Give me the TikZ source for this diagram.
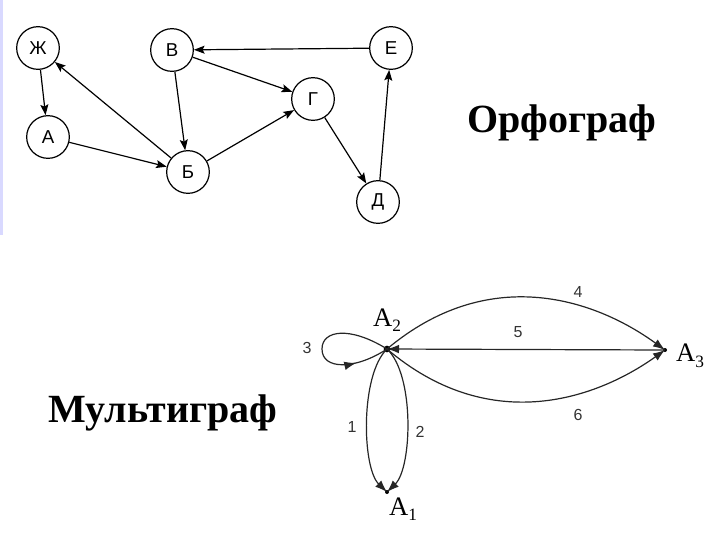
\documentclass[tikz,border=0pt]{standalone}
\usepackage{fontspec}
\setmainfont{Liberation Serif}
\newfontfamily\arialf{Liberation Sans}
\usetikzlibrary{arrows.meta,decorations.markings}
\newcommand{\sbs}[1]{\raisebox{-0.45ex}{\fontsize{13}{13}\selectfont #1}}
\begin{document}
\begin{tikzpicture}[x=0.75pt,y=-0.75pt,
  vnode/.style={circle,draw,line width=0.9pt,minimum size=32pt,inner sep=0pt,font=\arialf\fontsize{14}{16}\selectfont},
  tedge/.style={line width=0.9pt,-{Stealth[length=8pt,width=6pt,inset=1.5pt]}},
  medge/.style={line width=0.9pt,draw=black!85,-{Latex[length=9pt,width=6.5pt]}},
  num/.style={font=\arialf\fontsize{12}{14}\selectfont,text=black!80},
  alab/.style={font=\fontsize{20}{22}\selectfont},
  pt/.style={circle,fill,inner sep=0pt,minimum size=5pt},
  title/.style={font=\bfseries\fontsize{30}{34}\selectfont,anchor=base}]
\useasboundingbox (0,0) rectangle (720,540);
\fill[blue!15] (0,0) rectangle (3,235);
% top graph
\node[vnode] (zh) at (38,48) {Ж};
\node[vnode] (v) at (172,50) {В};
\node[vnode] (e) at (391,48) {Е};
\node[vnode] (g) at (313,99) {Г};
\node[vnode] (a) at (48,137) {А};
\node[vnode] (b) at (188,172) {Б};
\node[vnode] (d) at (378,202) {Д};
\draw[tedge] (zh) -- (a);
\draw[tedge] (b) -- (zh);
\draw[tedge] (a) -- (b);
\draw[tedge] (v) -- (b);
\draw[tedge] (v) -- (g);
\draw[tedge] (b) -- (g);
\draw[tedge] (g) -- (d);
\draw[tedge] (d) -- (e);
\draw[tedge] (e) -- (v);
\node[title] (t1) at (562,132) {Орфограф};
\node[title] (t2) at (163,422) {Мультиграф};
% multigraph
\node[pt] (p2) at (387,349) {};
\node[pt,minimum size=3pt] (p3) at (665,350) {};
\node[pt,minimum size=3pt] (p1) at (387,492) {};
\node[alab] (l2) at (387,320) {A\sbs{2}};
\node[alab] (l3) at (690,356) {A\sbs{3}};
\node[alab] (l1) at (403,509) {A\sbs{1}};
\draw[medge] (p2.center) .. controls (487,265) and (592,297) .. (p3.center);
\draw[medge] (p2.center) .. controls (487,434) and (592,402) .. (p3.center);
\draw[medge] (p3.center) -- (p2.center);
\draw[medge] (p2.center) .. controls (360,375) and (362,468) .. (p1.center);
\draw[medge] (p2.center) .. controls (415,375) and (412,468) .. (p1.center);
\draw[line width=0.9pt,draw=black!85,decoration={markings,mark=at position 0.78 with {\arrow{Latex[length=9pt,width=6.5pt]}}},postaction={decorate}]
  (p2.center) .. controls (350,326) and (322,330) .. (322,349) .. controls (322,370) and (355,370) .. (p2.center);
\node[num] (n4) at (578,292) {4};
\node[num] (n5) at (518,332) {5};
\node[num] (n6) at (578,415) {6};
\node[num] (n3) at (307,348) {3};
\node[num] (n1) at (352,427) {1};
\node[num] (n2) at (420,432) {2};
\end{tikzpicture}
\end{document}
